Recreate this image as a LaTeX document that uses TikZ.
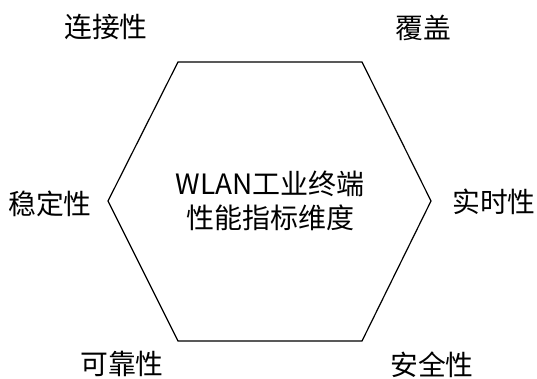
\documentclass[tikz,border=0pt]{standalone}
\usepackage{fontspec}
\setmainfont{Noto Sans CJK SC}
\begin{document}
\begin{tikzpicture}[x=1pt,y=1pt,
  lbl/.style={inner sep=0pt,font=\fontsize{27.8}{32}\selectfont},
  hexline/.style={draw=black,line width=1.2pt,line join=miter}]
\useasboundingbox (0,0) rectangle (537,379);
\coordinate (tl) at (178,317);
\coordinate (tr) at (362,317);
\coordinate (r) at (431,178);
\coordinate (br) at (362,38);
\coordinate (bl) at (178,38);
\coordinate (l) at (108,178);
\draw[hexline] (tl) -- (tr) -- (r) -- (br) -- (bl) -- (l) -- cycle;
\node[lbl,align=center,font=\fontsize{28}{34}\selectfont] (center) at (270,178) {WLAN工业终端\\性能指标维度};
\node[lbl] (lianjie) at (106,352) {连接性};
\node[lbl] (fugai) at (423,351) {覆盖};
\node[lbl] (wending) at (50,175) {稳定性};
\node[lbl] (shishi) at (494,177) {实时性};
\node[lbl] (kekao) at (122,15) {可靠性};
\node[lbl] (anquan) at (432,14) {安全性};
\end{tikzpicture}
\end{document}
